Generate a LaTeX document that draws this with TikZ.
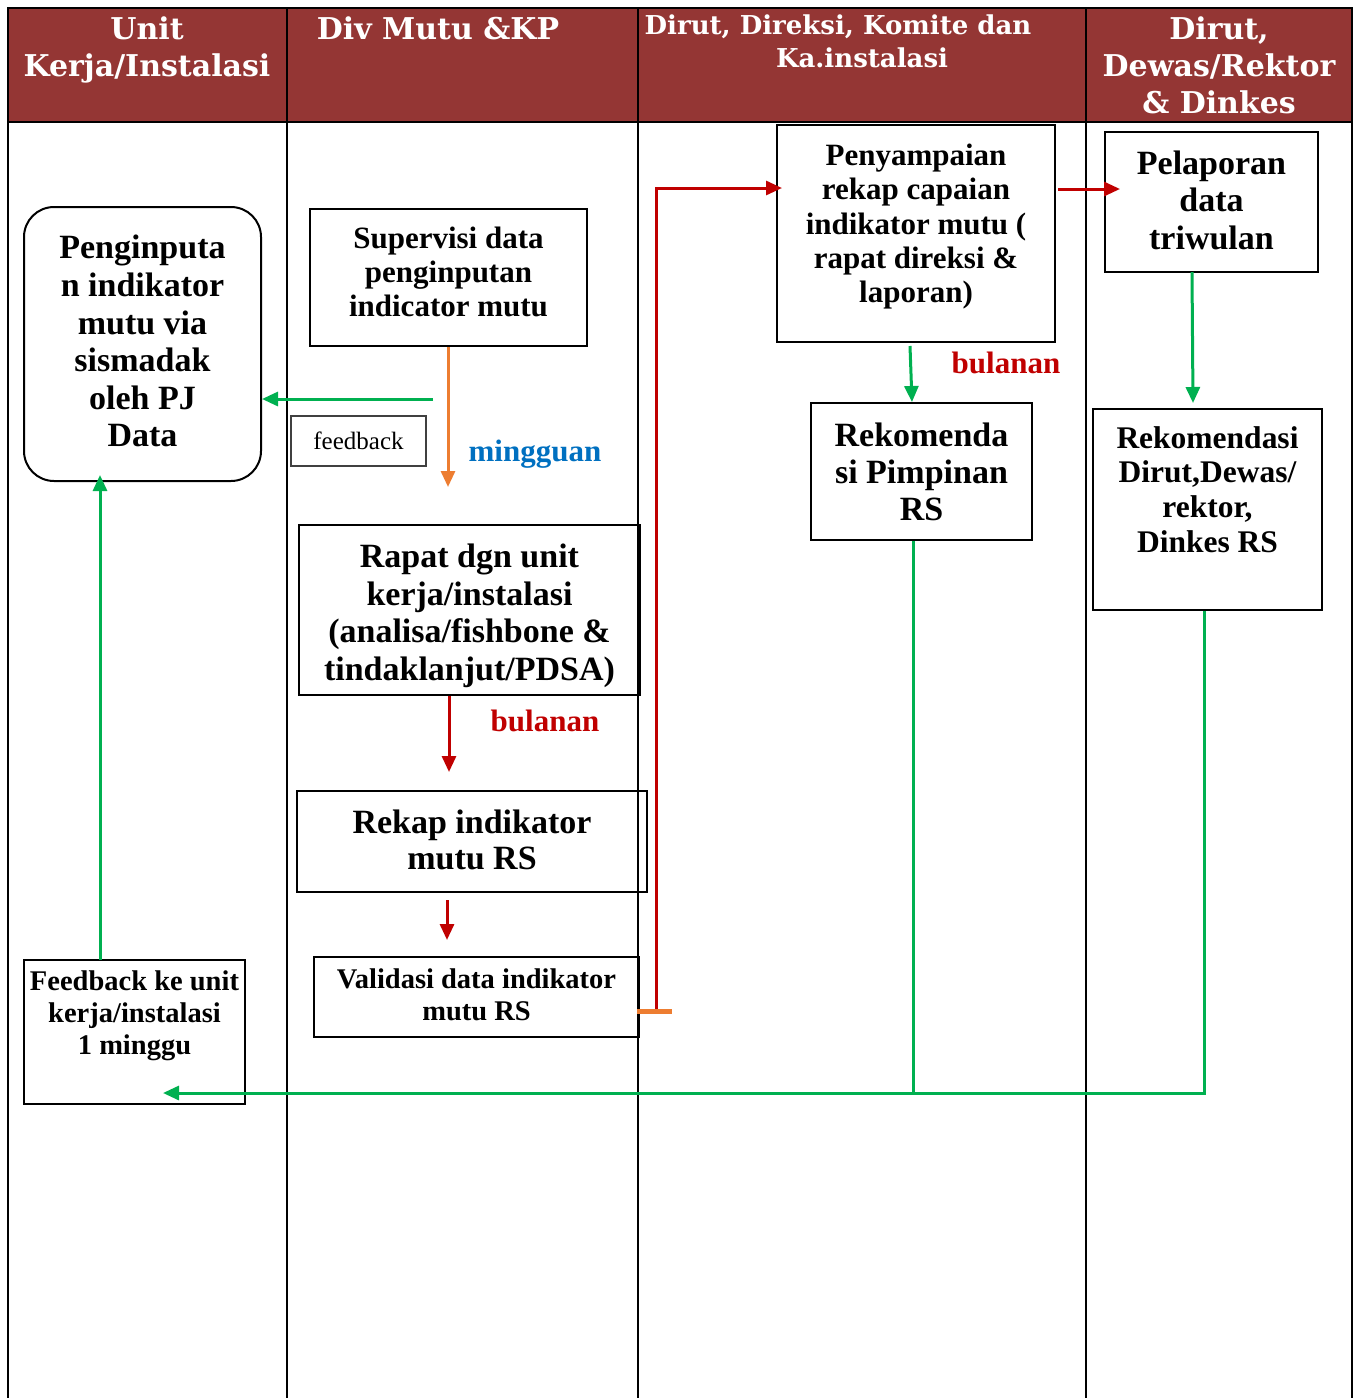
\documentclass[tikz,border=0pt]{standalone}
\usepackage{fontspec}
\setmainfont{Liberation Serif}
\newfontfamily\headfont{DejaVu Serif}
\usetikzlibrary{arrows.meta}
\definecolor{laneback}{HTML}{943634}
\definecolor{flowgreen}{HTML}{00B050}
\definecolor{floworange}{HTML}{ED7D31}
\definecolor{flowred}{HTML}{C00000}
\definecolor{flowblue}{HTML}{0070C0}
\tikzset{
  lanehead/.style={text=white,font=\headfont\bfseries\fontsize{30}{37}\selectfont,align=center,anchor=north,inner sep=0pt},
  stepbox/.style={draw,line width=2pt,align=center,inner sep=0pt},
  flow/.style={line width=3pt,-{Triangle[length=16pt,width=14pt]}},
  freq/.style={font=\bfseries\fontsize{31}{34}\selectfont}
}
\begin{document}
\begin{tikzpicture}[x=1pt,y=-1pt]
\useasboundingbox (0,0) rectangle (1361,1398);
% swimlanes
\fill[laneback] (8,8) rectangle (1352,122);
\draw[line width=2pt] (8,1398) -- (8,8) -- (1352,8) -- (1352,1398);
\draw[line width=2pt] (8,122) -- (1352,122);
\foreach \lx in {287,638,1086}
  \draw[line width=2pt] (\lx,8) -- (\lx,1398);
\node[lanehead] (laneunit) at (147,17) {Unit\\Kerja/Instalasi};
\node[lanehead] (lanemutu) at (438,17) {Div Mutu \&KP};
\node[lanehead,font=\headfont\bfseries\fontsize{26}{33}\selectfont] (lanedirut) at (862,15) {Dirut, Direksi, Komite dan\hspace*{48pt}\\Ka.instalasi};
\node[lanehead] (lanedewas) at (1219,17) {Dirut,\\Dewas/Rektor\\\& Dinkes};

% steps
\node[stepbox,rounded corners=30pt,minimum width=237pt,minimum height=274pt,font=\bfseries\fontsize{34}{37.6}\selectfont] (input) at (142.5,344) {Penginputa\\n indikator\\mutu via\\sismadak\\oleh PJ\\Data\\[-31.6pt]\mbox{}};
\node[stepbox,minimum width=277pt,minimum height=137pt,font=\bfseries\fontsize{31}{34}\selectfont] (superv) at (448.5,277.5) {Supervisi data\\penginputan\\indicator mutu\\[-22pt]\mbox{}};
\node[draw=black!75,line width=1.5pt,minimum width=135pt,minimum height=50pt,font=\fontsize{25}{28}\selectfont] (fbnote) at (358.5,441) {feedback};
\node[stepbox,minimum width=341pt,minimum height=170pt,font=\bfseries\fontsize{34}{37.7}\selectfont] (rapat) at (469.5,610) {\rule{0pt}{35pt}Rapat dgn unit\\kerja/instalasi\\(analisa/fishbone \&\\tindaklanjut/PDSA)};
\node[stepbox,minimum width=350pt,minimum height=101pt,font=\bfseries\fontsize{34}{36}\selectfont] (rekap) at (472,841.5) {Rekap indikator\\mutu RS\\[-32pt]\mbox{}};
\node[stepbox,minimum width=325pt,minimum height=80pt,font=\bfseries\fontsize{28.5}{32}\selectfont] (valid) at (476.5,997) {Validasi data indikator\\mutu RS\\[-27pt]\mbox{}};
\node[stepbox,minimum width=221pt,minimum height=144pt,font=\bfseries\fontsize{28.5}{32}\selectfont] (fbunit) at (134.5,1032) {Feedback ke unit\\kerja/instalasi\\1 minggu\\[6pt]\mbox{}};
\node[stepbox,minimum width=278pt,minimum height=217pt,font=\bfseries\fontsize{31}{34.3}\selectfont] (penyamp) at (916,233.5) {Penyampaian\\rekap capaian\\indikator mutu (\\rapat direksi \&\\laporan)\\[-14pt]\mbox{}};
\node[stepbox,minimum width=213pt,minimum height=140pt,font=\bfseries\fontsize{34}{37.5}\selectfont] (pelapor) at (1211.5,202) {Pelaporan\\data\\triwulan\\[-33.5pt]\mbox{}};
\node[stepbox,minimum width=221pt,minimum height=137pt,font=\bfseries\fontsize{34}{37}\selectfont] (rekpim) at (921.5,471.5) {Rekomenda\\si Pimpinan\\RS};
\node[stepbox,minimum width=229pt,minimum height=201pt,font=\bfseries\fontsize{31.5}{34.7}\selectfont] (rekdir) at (1207.5,509.5) {Rekomendasi\\Dirut,Dewas/\\rektor,\\Dinkes RS\\[6pt]\mbox{}};

% frequency labels
\node[freq,text=flowblue] (lblweek) at (535,454) {mingguan};
\node[freq,text=flowred] (lblmonth) at (545,721) {bulanan};
\node[freq,text=flowred] (lblmonthtop) at (1006,363) {bulanan};

% connector ends
\coordinate (supervtip) at (448,487);
\coordinate (fbstart) at (433,399);
\coordinate (rapattip) at (449,772);
\coordinate (rekapgo) at (447,900);
\coordinate (rekaptip) at (447,940);
\coordinate (validfoot) at (656,1011);
\coordinate (tbarL) at (637,1011);
\coordinate (tbarR) at (672,1011);
\coordinate (penyin) at (782,188);
\coordinate (penyout) at (1058,189);
\coordinate (pelaporin) at (1120,189);
\coordinate (penydown) at (910,346);
\coordinate (rekpimin) at (912,402);
\coordinate (pelapordown) at (1192,272);
\coordinate (rekdirin) at (1193,403);
\coordinate (rekpimjoin) at (913,1093);
\coordinate (rekdircorner) at (1204,1093);
\coordinate (fbunitin) at (163,1093);
\coordinate (fbunitup) at (100,960);
\coordinate (inputin) at (100,475);

% connectors
\draw[flow,floworange] (superv.south -| supervtip) -- (supervtip);
\draw[flow,flowgreen] (fbstart) -- (input.east |- fbstart);
\draw[flow,flowred] (rapat.south -| rapattip) -- (rapattip);
\draw[flow,flowred] (rekapgo) -- (rekaptip);
\draw[flow,flowred] (validfoot) |- (penyin);
\draw[floworange,line width=5pt] (tbarL) -- (tbarR);
\draw[flow,flowred] (penyout) -- (pelaporin);
\draw[flow,flowgreen] (penydown) -- (rekpimin);
\draw[flow,flowgreen] (pelapordown) -- (rekdirin);
\draw[line width=3pt,flowgreen] (rekpim.south -| rekpimjoin) -- (rekpimjoin);
\draw[flow,flowgreen] (rekdir.south -| rekdircorner) -- (rekdircorner) -- (fbunitin);
\draw[flow,flowgreen] (fbunitup) -- (inputin);
\end{tikzpicture}
\end{document}
